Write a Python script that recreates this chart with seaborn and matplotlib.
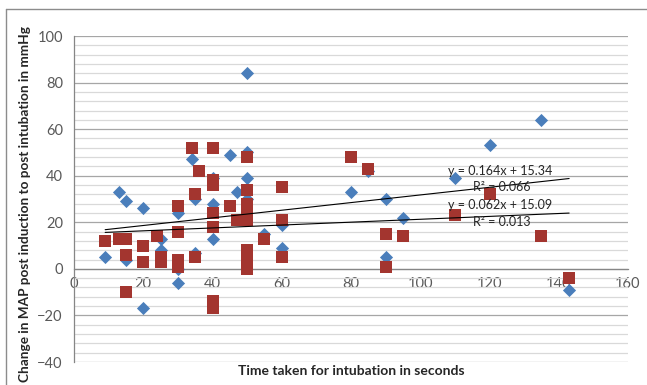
import numpy as np
import pandas as pd
import seaborn as sns
import matplotlib.pyplot as plt
from matplotlib.ticker import MultipleLocator
from matplotlib.lines import Line2D

# series 1 (blue diamonds)
time_a = [9, 13, 15, 15, 20, 20, 25, 25, 30, 30, 30, 34, 35, 35, 40, 40, 40, 45, 47,
          50, 50, 50, 50, 55, 60, 60, 80, 85, 90, 90, 95, 110, 120, 135, 143]
map_a = [5, 33, 29, 4, 26, -17, 13, 8, 24, 0, -6, 47, 30, 7, 39, 28, 13, 49, 33,
         84, 50, 39, 30, 15, 19, 9, 33, 42, 30, 5, 22, 39, 53, 64, -9]

# series 2 (red squares)
time_b = [9, 13, 15, 15, 15, 20, 20, 24, 25, 25, 30, 30, 30, 30, 34, 35, 35, 36,
          40, 40, 40, 40, 40, 40, 40, 45, 47, 50, 50, 50, 50, 50, 50, 50, 50, 50,
          55, 60, 60, 60, 80, 85, 90, 90, 95, 110, 120, 135, 143]
map_b = [12, 13, 13, 6, -10, 10, 3, 14, 5, 3, 27, 16, 4, 1, 52, 32, 5, 42,
         52, 38, 36, 24, 18, -14, -17, 27, 21, 48, 34, 28, 24, 21, 8, 5, 2, 0,
         13, 35, 21, 5, 48, 43, 15, 1, 14, 23, 32, 14, -4]

# trendline coefficients as printed on the chart
slope_a, icpt_a, r2_a = 0.164, 15.34, 0.066
slope_b, icpt_b, r2_b = 0.062, 15.09, 0.013

sns.set_theme(style='white')
plt.rcParams['font.family'] = ['Lato', 'DejaVu Sans']

blue = '#4a7ebb'
red = '#a3352f'
grey_txt = '#595959'

df_a = pd.DataFrame({'time': time_a, 'map': map_a})
df_b = pd.DataFrame({'time': time_b, 'map': map_b})

fig = plt.figure(figsize=(6.47, 3.85), dpi=100)
ax = fig.add_axes([74 / 647, 23 / 385, 554 / 647, 326 / 385])

sns.scatterplot(data=df_a, x='time', y='map', marker='D', color=blue, s=45,
                linewidth=0, ax=ax, zorder=3)
sns.scatterplot(data=df_b, x='time', y='map', marker='s', color=red, s=78,
                linewidth=0, ax=ax, zorder=4)

# trendlines over the data range
xs = np.array([min(time_a), max(time_a)])
ax.plot(xs, slope_a * xs + icpt_a, color='black', lw=0.8, zorder=5)
xs = np.array([min(time_b), max(time_b)])
ax.plot(xs, slope_b * xs + icpt_b, color='black', lw=0.8, zorder=5)

txt_kw = dict(ha='center', va='center', fontsize=9, color='#262626', zorder=6)
ax.text(123, 42.2, f'y = {slope_a}x + {icpt_a}', **txt_kw)
ax.text(123.5, 35.2, f'R² = {r2_a}', **txt_kw)
ax.text(123, 27.5, f'y = {slope_b}x + {icpt_b}', **txt_kw)
ax.text(123.5, 20.0, f'R² = {r2_b}', **txt_kw)

ax.set_xlim(0, 160)
ax.set_ylim(-40, 100)
ax.xaxis.set_major_locator(MultipleLocator(20))
ax.yaxis.set_major_locator(MultipleLocator(20))
ax.yaxis.set_minor_locator(MultipleLocator(4))

ax.grid(which='major', axis='y', color='#a6a6a6', lw=0.9)
ax.grid(which='minor', axis='y', color='#d9d9d9', lw=0.9)
ax.grid(which='major', axis='x', visible=False)
ax.set_axisbelow(True)

for s in ['top', 'right']:
    ax.spines[s].set_visible(False)
ax.spines['bottom'].set_position(('data', 0))
ax.spines['bottom'].set_color('#868686')
ax.spines['left'].set_color('#868686')
ax.spines['bottom'].set_linewidth(0.9)
ax.spines['left'].set_linewidth(0.9)

ax.tick_params(axis='both', which='major', direction='out', length=4, width=0.8,
               color='#868686', labelsize=10.5, labelcolor=grey_txt)
ax.tick_params(axis='y', which='minor', length=0)
ax.tick_params(axis='x', pad=2)
ax.tick_params(axis='y', pad=4)

ax.set_xlabel('Time taken for intubation in seconds', fontsize=10, fontweight='bold',
              color='#262626')
ax.set_ylabel('Change in MAP post induction to post intubation in mmHg', fontsize=9.8,
              fontweight='bold', color='#262626')
ax.xaxis.set_label_coords(0.5, -0.01)
ax.yaxis.set_label_coords(-0.078, 0.485)

# outer chart frame (left and top edges visible)
fx, fy = 6 / 647, 1 - 9 / 385
fig.add_artist(Line2D([fx, fx], [0, fy], color='#8c8c8c', lw=1.0))
fig.add_artist(Line2D([fx, 1], [fy, fy], color='#8c8c8c', lw=1.0))

fig.savefig('out.png', dpi=100)
